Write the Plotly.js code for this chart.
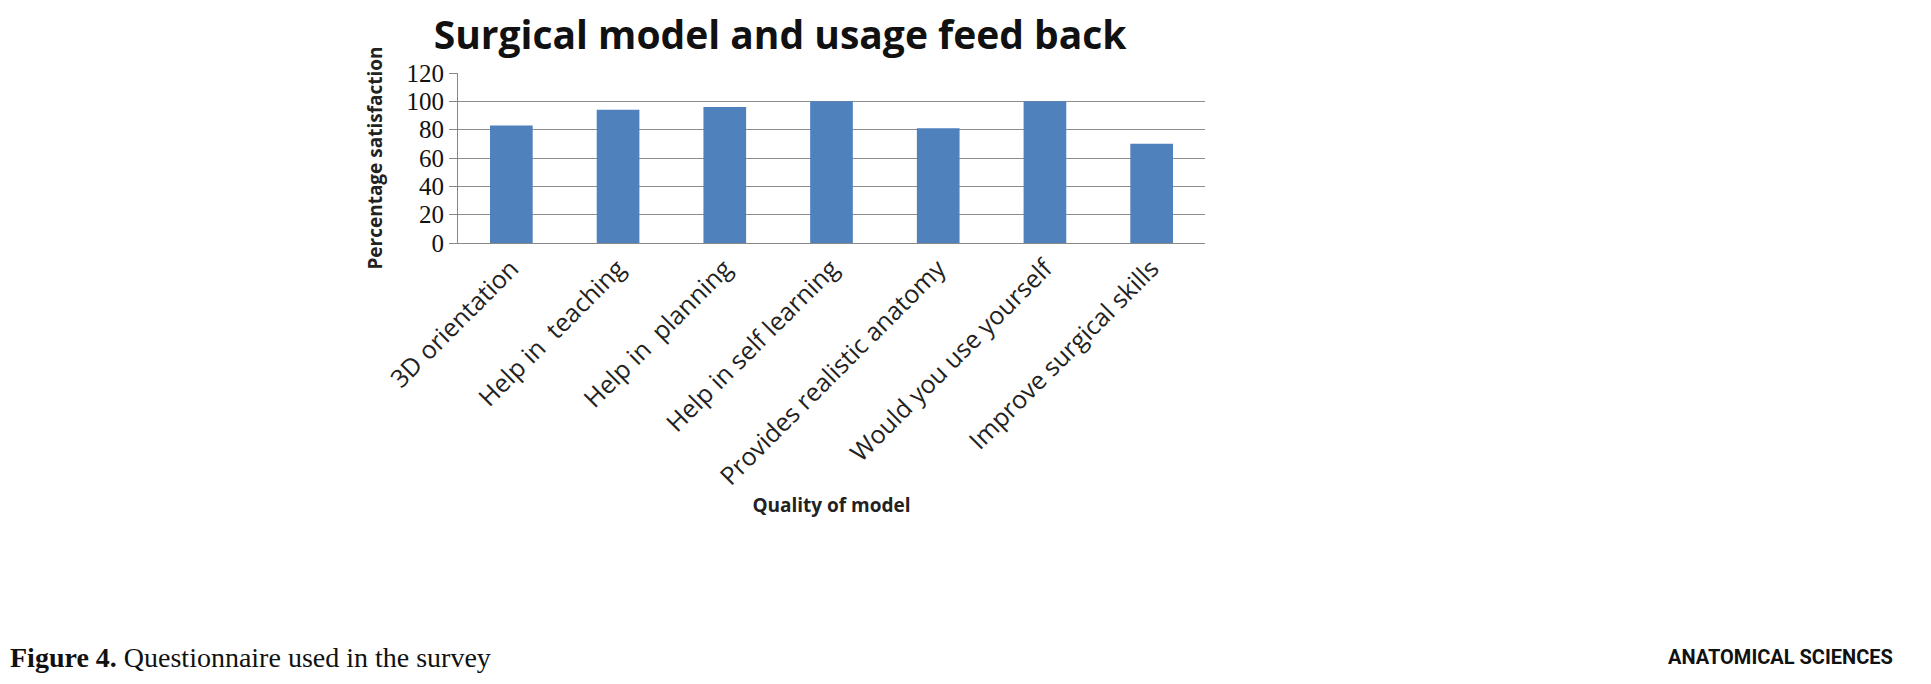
<!DOCTYPE html>
<html>
<head>
<meta charset="utf-8">
<script src="https://cdn.plot.ly/plotly-3.0.1.min.js"></script>
<style>
  html, body { margin: 0; padding: 0; background: #fff; }
  #chart { width: 1931px; height: 684px; }
</style>
</head>
<body>
<div id="chart"></div>
<script>
const categories = [
  '3D orientation', 'Help in  teaching', 'Help in  planning', 'Help in self learning',
  'Provides realistic anatomy', 'Would you use yourself', 'Improve surgical skills',
];
const satisfaction = [83, 94, 96, 100, 81, 100, 70];
const yTicks = [0, 20, 40, 60, 80, 100, 120];

const trace = {
  x: categories,
  y: satisfaction,
  type: 'bar',
  width: 0.4,
  marker: { color: '#4f81bd' },
  hoverinfo: 'x+y',
};

const layout = {
  width: 1931,
  height: 684,
  paper_bgcolor: '#fff',
  plot_bgcolor: '#fff',
  margin: { l: 458, r: 726, t: 73, b: 441 },
  showlegend: false,
  bargap: 0.6,
  title: {
    text: '<b>Surgical model and usage feed back</b>',
    font: { family: 'Open Sans', size: 39, color: '#111' },
    x: 0.404, xanchor: 'center', y: 0.948, yanchor: 'middle',
  },
  xaxis: {
    tickangle: -45,
    tickfont: { family: 'Open Sans', size: 25, color: '#222' },
    showline: true, linecolor: '#888', linewidth: 1,
    ticks: '',
    title: { text: '<b>Quality of model</b>', font: { family: 'Open Sans', size: 19, color: '#222' }, standoff: 0 },
  },
  yaxis: {
    range: [0, 120],
    tickvals: yTicks,
    tickfont: { family: 'Liberation Serif', size: 25, color: '#111' },
    gridcolor: '#8c8c8c', gridwidth: 1,
    showline: true, linecolor: '#888', linewidth: 1,
    ticks: 'outside', ticklen: 8, tickcolor: '#888',
    zeroline: false,
    title: { text: '<b>Percentage satisfaction</b>', font: { family: 'Open Sans', size: 19, color: '#222' }, standoff: 18 },
  },
  annotations: [
    {
      text: '<b>Figure 4.</b> Questionnaire used in the survey',
      xref: 'paper', yref: 'paper', x: -450 / 747, y: 0, xanchor: 'left',
      yshift: -432, showarrow: false,
      font: { family: 'Liberation Serif', size: 28, color: '#111' },
    },
    {
      text: '<b>ANATOMICAL SCIENCES</b>',
      xref: 'paper', yref: 'paper', x: 1 + 690 / 747, y: 0, xanchor: 'right',
      yshift: -428, showarrow: false,
      font: { family: 'Liberation Sans Narrow, Roboto', size: 20, color: '#111' },
    },
  ],
};

Plotly.newPlot('chart', [trace], layout, { displayModeBar: false });
</script>
</body>
</html>
